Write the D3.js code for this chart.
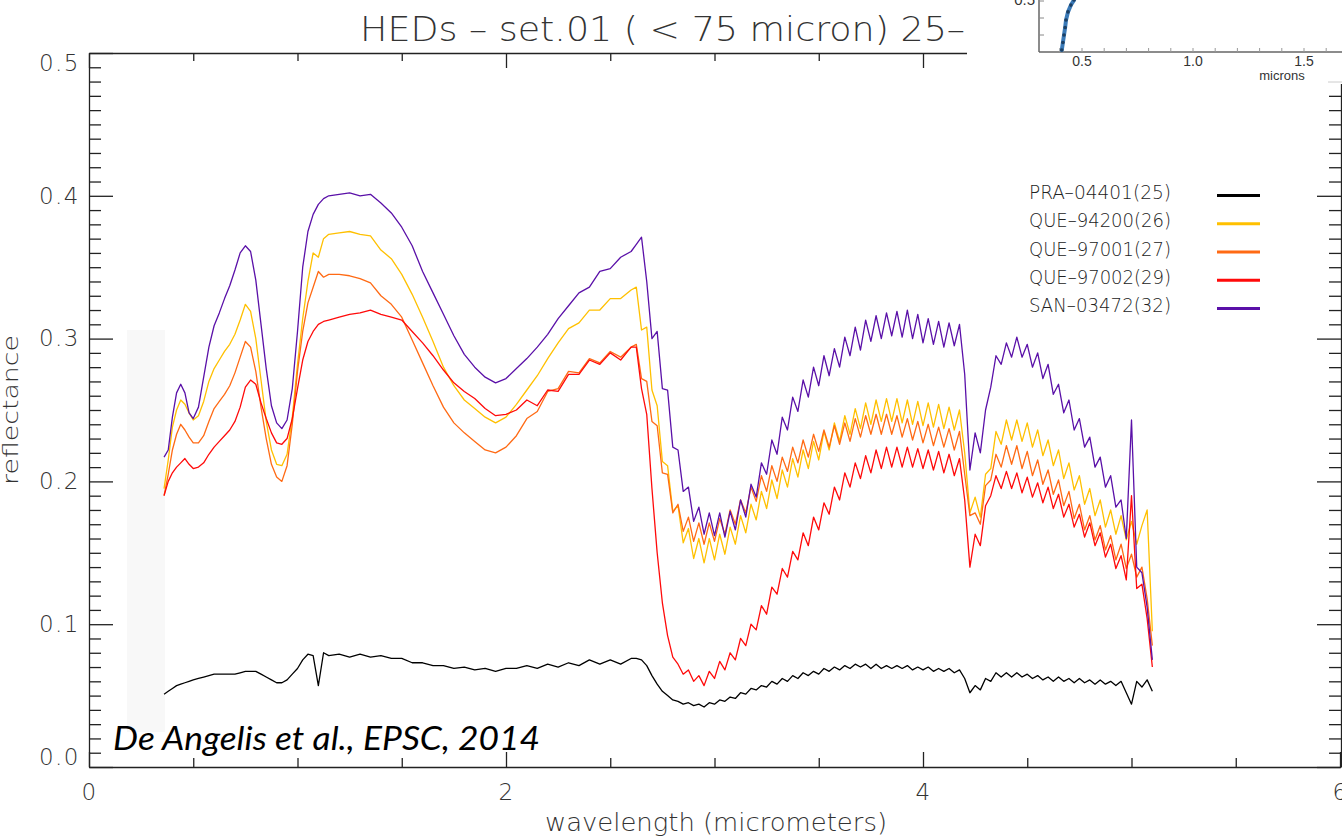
<!DOCTYPE html>
<html><head><meta charset="utf-8">
<script src="https://cdn.jsdelivr.net/npm/d3@7"></script>
<style>
html,body{margin:0;padding:0;background:#fff;overflow:hidden}
svg{display:block}
</style></head><body>
<svg id="chart" width="1342" height="839"></svg>
<script>
// ---------- DATA ----------
const wavelength = [
0.36,0.38,0.40,0.42,0.44,0.46,0.48,0.50,0.525,0.55,0.575,0.60,0.625,0.65,0.675,0.70,0.725,0.75,0.775,0.80,0.825,0.85,0.875,0.90,0.925,0.95,0.975,1.00,1.025,1.05,1.075,1.10,1.125,1.15,
1.20,1.25,1.30,1.35,1.40,1.45,1.50,1.55,1.60,1.65,1.70,1.75,1.80,1.85,1.90,1.95,2.00,2.05,2.10,2.15,2.20,2.25,2.30,2.35,2.40,2.45,2.50,2.55,2.60,
2.625,2.65,2.675,2.70,2.725,2.75,2.775,2.80,2.825,2.85,2.875,2.90,2.925,2.95,2.975,3.00,3.025,3.05,3.075,3.10,3.125,3.15,3.175,3.20,3.225,3.25,3.275,3.30,3.325,3.35,3.375,3.40,3.425,3.45,3.475,3.50,3.525,3.55,3.575,3.60,3.625,3.65,3.675,3.70,3.725,3.75,3.775,3.80,3.825,3.85,3.875,3.90,3.925,3.95,3.975,4.00,4.025,4.05,4.075,4.10,4.125,4.15,4.175,4.20,4.225,4.25,4.275,4.30,4.325,4.35,4.375,4.40,4.425,4.45,4.475,4.50,4.525,4.55,4.575,4.60,4.625,4.65,4.675,4.70,4.725,4.75,4.775,4.80,4.825,4.85,4.875,4.90,4.925,4.95,4.975,5.00,5.025,5.05,5.075,5.10];

const pra04401 = [
0.051,0.053,0.055,0.057,0.058,0.059,0.060,0.061,0.062,0.063,0.064,0.065,0.065,0.065,0.065,0.065,0.066,0.067,0.067,0.067,0.065,0.063,0.061,0.059,0.059,0.061,0.065,0.069,0.075,0.079,0.078,0.057,0.080,0.078,
0.079,0.077,0.079,0.077,0.078,0.076,0.076,0.073,0.073,0.071,0.071,0.069,0.070,0.068,0.069,0.067,0.069,0.069,0.071,0.069,0.072,0.070,0.073,0.071,0.075,0.072,0.075,0.072,0.076,
0.076,0.075,0.071,0.064,0.058,0.053,0.050,0.047,0.046,0.044,0.045,0.043,0.044,0.042,0.045,0.044,0.047,0.046,0.049,0.048,
0.052,0.051,0.055,0.054,0.057,0.056,0.060,0.058,0.062,0.060,0.064,0.062,0.066,0.064,0.067,0.065,0.069,0.067,0.070,0.068,
0.071,0.069,0.072,0.070,0.072,0.069,0.072,0.069,0.071,0.069,0.071,0.069,0.071,0.068,0.070,0.068,0.070,0.067,0.069,0.067,
0.069,0.066,0.068,0.062,0.052,0.057,0.054,0.062,0.060,0.066,0.063,0.066,0.063,0.066,0.063,0.065,0.062,0.064,0.061,0.063,
0.060,0.063,0.060,0.062,0.059,0.062,0.059,0.061,0.058,0.061,0.058,0.060,0.057,0.060,0.052,0.044,0.060,0.056,0.061,0.053];

const que94200 = [
0.195,0.215,0.238,0.250,0.257,0.254,0.248,0.243,0.246,0.256,0.270,0.279,0.285,0.291,0.296,0.303,0.313,0.324,0.319,0.300,0.271,0.242,0.222,0.212,0.211,0.219,0.245,0.282,0.314,0.340,0.360,0.357,0.370,0.373,
0.374,0.375,0.373,0.372,0.362,0.356,0.345,0.331,0.315,0.298,0.280,0.267,0.257,0.251,0.245,0.241,0.245,0.254,0.264,0.274,0.286,0.297,0.307,0.311,0.320,0.320,0.328,0.328,0.334,
0.336,0.306,0.308,0.264,0.253,0.214,0.211,0.179,0.183,0.157,0.167,0.146,0.160,0.143,0.160,0.145,0.163,0.149,0.168,0.156,
0.176,0.164,0.184,0.173,0.193,0.181,0.201,0.188,0.208,0.196,0.216,0.203,0.222,0.209,0.228,0.215,0.235,0.222,0.241,0.228,
0.246,0.233,0.251,0.237,0.255,0.240,0.257,0.242,0.258,0.242,0.258,0.241,0.257,0.240,0.256,0.239,0.255,0.238,0.254,0.237,
0.252,0.236,0.250,0.220,0.178,0.189,0.175,0.205,0.209,0.235,0.226,0.243,0.229,0.243,0.228,0.241,0.224,0.236,0.218,0.229,
0.211,0.222,0.202,0.213,0.194,0.204,0.184,0.195,0.176,0.187,0.168,0.180,0.163,0.176,0.159,0.172,0.156,0.169,0.180,0.095];

const que97001 = [
0.190,0.205,0.222,0.233,0.240,0.236,0.231,0.227,0.227,0.232,0.242,0.251,0.256,0.261,0.267,0.276,0.287,0.298,0.294,0.277,0.252,0.230,0.212,0.203,0.200,0.211,0.240,0.277,0.305,0.325,0.336,0.347,0.343,0.345,
0.345,0.344,0.342,0.339,0.330,0.324,0.315,0.299,0.283,0.267,0.252,0.241,0.234,0.228,0.222,0.220,0.224,0.232,0.244,0.249,0.263,0.265,0.277,0.276,0.286,0.283,0.291,0.287,0.294,
0.296,0.272,0.270,0.242,0.239,0.206,0.205,0.178,0.184,0.165,0.175,0.158,0.171,0.156,0.171,0.158,0.174,0.163,0.180,0.170,
0.187,0.178,0.196,0.186,0.204,0.193,0.211,0.200,0.217,0.207,0.224,0.213,0.229,0.217,0.233,0.221,0.236,0.224,0.239,0.226,
0.241,0.228,0.244,0.231,0.246,0.233,0.247,0.233,0.247,0.233,0.246,0.231,0.244,0.229,0.242,0.227,0.240,0.225,0.238,0.224,
0.237,0.222,0.235,0.205,0.176,0.178,0.170,0.197,0.201,0.219,0.210,0.225,0.212,0.225,0.209,0.221,0.204,0.215,0.198,0.208,
0.191,0.201,0.183,0.193,0.174,0.184,0.166,0.176,0.159,0.169,0.152,0.162,0.145,0.156,0.139,0.149,0.133,0.140,0.118,0.085];

const que97002 = [
0.190,0.200,0.206,0.210,0.213,0.216,0.212,0.209,0.210,0.213,0.219,0.224,0.228,0.232,0.236,0.242,0.252,0.266,0.271,0.268,0.255,0.244,0.234,0.227,0.226,0.230,0.244,0.265,0.285,0.298,0.305,0.310,0.312,0.313,
0.315,0.317,0.318,0.320,0.317,0.315,0.313,0.305,0.297,0.288,0.278,0.269,0.263,0.258,0.251,0.246,0.247,0.250,0.257,0.253,0.264,0.263,0.275,0.275,0.285,0.282,0.290,0.285,0.294,
0.294,0.265,0.247,0.195,0.150,0.115,0.092,0.077,0.072,0.065,0.068,0.060,0.064,0.057,0.067,0.062,0.074,0.068,0.080,0.075,
0.090,0.085,0.100,0.096,0.113,0.107,0.126,0.121,0.139,0.133,0.151,0.145,0.164,0.155,0.175,0.166,0.185,0.177,0.196,0.187,
0.206,0.196,0.213,0.202,0.218,0.206,0.222,0.209,0.224,0.210,0.224,0.210,0.224,0.210,0.223,0.209,0.222,0.208,0.221,0.206,
0.219,0.204,0.216,0.187,0.140,0.163,0.155,0.183,0.190,0.204,0.195,0.207,0.195,0.206,0.192,0.203,0.189,0.199,0.185,0.196,
0.181,0.191,0.175,0.184,0.168,0.177,0.161,0.171,0.155,0.164,0.147,0.156,0.139,0.148,0.131,0.190,0.125,0.128,0.104,0.070];

const san03472 = [
0.217,0.222,0.245,0.262,0.268,0.262,0.248,0.244,0.252,0.273,0.294,0.309,0.318,0.328,0.337,0.348,0.360,0.365,0.361,0.341,0.310,0.279,0.253,0.241,0.237,0.243,0.265,0.305,0.350,0.375,0.387,0.394,0.398,0.400,
0.401,0.402,0.400,0.401,0.395,0.388,0.378,0.365,0.347,0.332,0.317,0.302,0.289,0.280,0.273,0.269,0.272,0.279,0.286,0.294,0.303,0.314,0.323,0.332,0.336,0.347,0.349,0.357,0.361,
0.366,0.371,0.340,0.300,0.305,0.265,0.264,0.224,0.222,0.193,0.196,0.172,0.182,0.163,0.178,0.162,0.178,0.161,0.179,0.166,
0.187,0.175,0.198,0.189,0.213,0.205,0.229,0.219,0.245,0.236,0.259,0.249,0.271,0.259,0.280,0.267,0.288,0.274,0.293,0.280,
0.301,0.288,0.308,0.292,0.313,0.298,0.316,0.300,0.318,0.302,0.319,0.301,0.320,0.300,0.317,0.297,0.314,0.296,0.312,0.294,
0.311,0.295,0.310,0.275,0.208,0.234,0.220,0.250,0.266,0.288,0.282,0.297,0.287,0.301,0.287,0.296,0.280,0.290,0.272,0.282,
0.261,0.268,0.248,0.257,0.236,0.244,0.224,0.231,0.210,0.217,0.196,0.204,0.182,0.187,0.160,0.243,0.140,0.136,0.112,0.075];

const seriesNames  = ["PRA\u201304401(25)", "QUE\u201394200(26)", "QUE\u201397001(27)", "QUE\u201397002(29)", "SAN\u201303472(32)"];
const seriesColors = ["#000000", "#FFC000", "#FF6A14", "#FF0A0A", "#5A10A8"];
const seriesValues = [pra04401, que94200, que97001, que97002, san03472];

const xMajorTicks = [0, 2, 4, 6];
const xMinorTicks = [0.5, 1, 1.5, 2.5, 3, 3.5, 4.5, 5, 5.5];
const yMajorTicks = [0, 0.1, 0.2, 0.3, 0.4, 0.5];
const yMinorTicks = d3.range(1, 50).filter(k => k % 10 !== 0).map(k => k / 100);

// inset (pasted picture fragment, top right)
const insetMicrons = [0.409, 0.414, 0.419, 0.424, 0.428, 0.437, 0.450, 0.464, 0.470];
const insetValues  = [0.356, 0.378, 0.400, 0.422, 0.444, 0.468, 0.488, 0.503, 0.512];
const insetXLabels = [0.5, 1.0, 1.5];
const insetXTicks  = d3.range(4, 18).map(k => k / 10);
const insetYTicks  = [0.40, 0.45, 0.50];

const titleText = "HEDs \u2013 set.01 ( < 75 micron) 25\u2013";
const citation  = "De Angelis et al., EPSC, 2014";

// ---------- DRAWING ----------
const svg = d3.select("#chart");
const W = 1342, H = 839;
const x = d3.scaleLinear().domain([0, 6]).range([89, 1340]);
const y = d3.scaleLinear().domain([0, 0.5]).range([767, 53]);
const FONT = "'DejaVu Sans', 'Liberation Sans', sans-serif";
const AX = "#222";

svg.append("rect").attr("width", W).attr("height", H).attr("fill", "#fff");
// faint pasted background patch
svg.append("rect").attr("x", 127).attr("y", 330).attr("width", 38).attr("height", 402).attr("fill", "#f8f8f8");

function styleAxis(g, fs) {
  g.attr("font-family", FONT).attr("font-size", fs).attr("font-weight", 200);
  g.selectAll("path,line").attr("stroke", AX).attr("stroke-width", 1.3);
  g.selectAll("text").attr("fill", "#333").attr("letter-spacing", "1.5px");
}
// left
svg.append("g").attr("transform", "translate(89,0)")
  .call(d3.axisLeft(y).tickValues(yMajorTicks).tickSize(-24).tickSizeOuter(0).tickPadding(9).tickFormat(d3.format(".1f")))
  .call(g => {
    styleAxis(g, 23);
    // end labels sit inside the frame, as in the reference
    g.selectAll(".tick text").attr("dy", d => d === 0.5 ? "0.75em" : (d === 0 ? "-0.12em" : "0.32em"));
  });
svg.append("g").attr("transform", "translate(89,0)")
  .call(d3.axisLeft(y).tickValues(yMinorTicks).tickSize(-12).tickSizeOuter(0).tickFormat(""))
  .call(g => { g.select(".domain").remove(); styleAxis(g, 10); });
// right
svg.append("g").attr("transform", "translate(1341,0)")
  .call(d3.axisRight(y).tickValues(yMajorTicks).tickSize(-24).tickSizeOuter(0).tickFormat(""))
  .call(g => styleAxis(g, 10));
svg.append("g").attr("transform", "translate(1341,0)")
  .call(d3.axisRight(y).tickValues(yMinorTicks).tickSize(-12).tickSizeOuter(0).tickFormat(""))
  .call(g => { g.select(".domain").remove(); styleAxis(g, 10); });
// bottom
svg.append("g").attr("transform", "translate(0,767)")
  .call(d3.axisBottom(x).tickValues(xMajorTicks).tickSize(-15).tickSizeOuter(0).tickPadding(17).tickFormat(d3.format("d")))
  .call(g => styleAxis(g, 23));
svg.append("g").attr("transform", "translate(0,767)")
  .call(d3.axisBottom(x).tickValues(xMinorTicks).tickSize(-9).tickSizeOuter(0).tickFormat(""))
  .call(g => { g.select(".domain").remove(); styleAxis(g, 10); });
// top
svg.append("g").attr("transform", "translate(0,53)")
  .call(d3.axisTop(x).tickValues(xMajorTicks).tickSize(-15).tickSizeOuter(0).tickFormat(""))
  .call(g => styleAxis(g, 10));
svg.append("g").attr("transform", "translate(0,53)")
  .call(d3.axisTop(x).tickValues(xMinorTicks).tickSize(-8).tickSizeOuter(0).tickFormat(""))
  .call(g => { g.select(".domain").remove(); styleAxis(g, 10); });

// series
const line = d3.line().x((d, i) => x(wavelength[i])).y(d => y(d));
svg.append("g").selectAll("path").data(seriesValues).join("path")
  .attr("d", line).attr("fill", "none")
  .attr("stroke", (d, i) => seriesColors[i]).attr("stroke-width", 1.3)
  .attr("stroke-linejoin", "round");

// axis titles
svg.append("text").attr("transform", "translate(18,410) rotate(-90)")
  .attr("text-anchor", "middle").attr("font-family", FONT).attr("font-weight", 200)
  .attr("font-size", 22).attr("fill", "#333").attr("textLength", 150).attr("lengthAdjust", "spacingAndGlyphs")
  .text("reflectance");
svg.append("text").attr("x", 545).attr("y", 831)
  .attr("font-family", FONT).attr("font-weight", 200)
  .attr("font-size", 24).attr("fill", "#333").attr("textLength", 342).attr("lengthAdjust", "spacingAndGlyphs")
  .text("wavelength (micrometers)");

// title
svg.append("text").attr("x", 360).attr("y", 41)
  .attr("font-family", FONT).attr("font-weight", 200)
  .attr("font-size", 33).attr("fill", "#333").attr("textLength", 605).attr("lengthAdjust", "spacingAndGlyphs")
  .text(titleText);

// legend
const leg = svg.append("g");
const legRowY = d3.scaleLinear().domain([0, 4]).range([192, 305]);
seriesNames.forEach((name, i) => {
  leg.append("text").attr("x", 1029).attr("y", legRowY(i) + 7)
    .attr("font-family", FONT).attr("font-weight", 200).attr("font-size", 19).attr("fill", "#222")
    .attr("textLength", 142).attr("lengthAdjust", "spacingAndGlyphs")
    .text(name);
  leg.append("line").attr("x1", 1217).attr("x2", 1260)
    .attr("y1", legRowY(i) + 3.5).attr("y2", legRowY(i) + 3.5)
    .attr("stroke", seriesColors[i]).attr("stroke-width", 3);
});

// inset picture fragment (top right)
const inset = svg.append("g");
inset.append("rect").attr("x", 967).attr("y", 0).attr("width", W - 967).attr("height", 84).attr("fill", "#fff");
const ix = d3.scaleLinear().domain([0.5, 1.5]).range([1082, 1304]);
const iy = d3.scaleLinear().domain([0.35, 0.50]).range([52, 1]);
const IAX = "#666";
inset.append("line").attr("x1", 1039).attr("x2", W).attr("y1", 52).attr("y2", 52).attr("stroke", IAX).attr("stroke-width", 1.5);
inset.append("line").attr("x1", 1039).attr("x2", 1039).attr("y1", 0).attr("y2", 52).attr("stroke", IAX).attr("stroke-width", 1.5);
inset.selectAll(".ixt").data(insetXTicks).join("line")
  .attr("x1", d => ix(d)).attr("x2", d => ix(d)).attr("y1", 52).attr("y2", 48)
  .attr("stroke", "#999").attr("stroke-width", 1);
inset.selectAll(".iyt").data(insetYTicks).join("line")
  .attr("x1", 1039).attr("x2", 1044).attr("y1", d => iy(d)).attr("y2", d => iy(d))
  .attr("stroke", "#888").attr("stroke-width", 1);
inset.selectAll(".ixl").data(insetXLabels).join("text")
  .attr("x", d => ix(d)).attr("y", 66).attr("text-anchor", "middle")
  .attr("font-family", "'Liberation Sans', Arial, sans-serif").attr("font-size", 14).attr("fill", "#333")
  .text(d => d3.format(".1f")(d));
inset.append("text").attr("x", 1035).attr("y", 5).attr("text-anchor", "end")
  .attr("font-family", "'Liberation Sans', Arial, sans-serif").attr("font-size", 15).attr("fill", "#333")
  .text("0.5");
inset.append("text").attr("x", 1282).attr("y", 80).attr("text-anchor", "middle")
  .attr("font-family", "'Liberation Sans', Arial, sans-serif").attr("font-size", 13).attr("fill", "#333")
  .text("microns");
inset.append("line").attr("x1", 1328).attr("x2", W).attr("y1", 82).attr("y2", 82).attr("stroke", "#ccc");
const iline = d3.line().x((d, i) => ix(insetMicrons[i])).y(d => iy(d));
inset.append("path").datum(insetValues).attr("d", iline).attr("fill", "none")
  .attr("stroke", "#3a7ab8").attr("stroke-width", 4).attr("stroke-linecap", "round");
inset.selectAll(".idot").data(insetValues).join("circle")
  .attr("cx", (d, i) => ix(insetMicrons[i])).attr("cy", d => iy(d)).attr("r", 1.8).attr("fill", "#1c3f63");

// citation
svg.append("text").attr("x", 113).attr("y", 750)
  .attr("font-family", "Lato, 'Open Sans', sans-serif").attr("font-style", "italic")
  .attr("font-size", 33).attr("fill", "#000").attr("textLength", 427).attr("lengthAdjust", "spacingAndGlyphs")
  .text(citation);
</script>
</body></html>
